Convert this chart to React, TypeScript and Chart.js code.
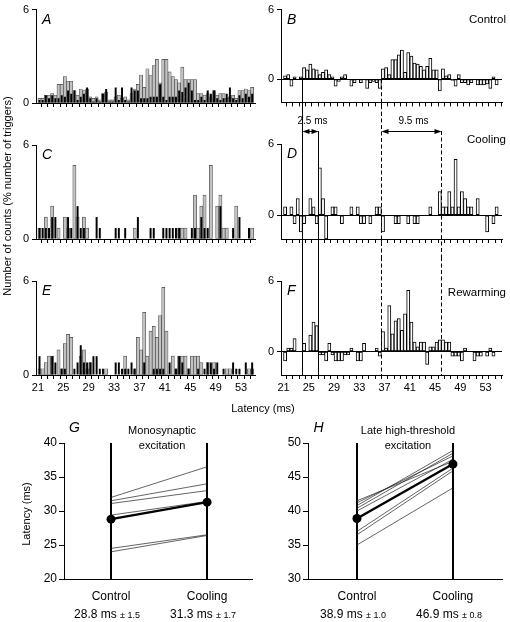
import React, { useEffect, useRef } from 'react';
import { Chart, registerables } from 'chart.js';
Chart.register(...registerables);

const FONT = "'Liberation Sans', Arial, Helvetica, sans-serif";

// ---------------- data ----------------
const BIN_START_MS = 21;
const BIN_WIDTH_MS = 0.5;
const X_TICKS = [21, 22, 23, 24, 25, 26, 27, 28, 29, 30, 31, 32, 33, 34, 35, 36, 37, 38, 39, 40, 41, 42, 43, 44, 45, 46, 47, 48, 49, 50, 51, 52, 53, 54, 55];
const X_LABELS = [21, 25, 29, 33, 37, 41, 45, 49, 53];
const Y_TICKS_HIST = [0, 6];

// Left column: grey and black histograms (% of triggers)
const A_GREY = [0.3, 0.3, 0.5, 0.5, 0.6, 0.5, 1.2, 1.2, 1.7, 1.4, 1.4, 0.8, 0.5, 0.9, 0.8, 0.9, 0.4, 0.3, 0.4, 0.2, 0.6, 0.7, 0.2, 0.2, 0.4, 0.5, 0.3, 0.4, 0.2, 0.6, 0.9, 1.2, 1.8, 1.0, 2.2, 1.8, 2.4, 2.8, 1.3, 2.8, 2.8, 2.0, 1.7, 1.5, 1.3, 2.3, 1.5, 1.5, 1.5, 1.5, 0.6, 0.6, 0.5, 0.6, 0.4, 0.8, 0.5, 0.6, 0.6, 0.3, 0.4, 0.5, 0.3, 0.8, 0.8, 0.9, 0.8, 1.0];
const A_BLACK = [0.2, 0.2, 0.5, 0.3, 0.5, 0.3, 0.3, 0.5, 0.4, 0.8, 0.6, 0.8, 0.2, 0.4, 0.6, 1.0, 0.3, 0.1, 0.3, 0.1, 0.6, 0.9, 0.1, 0.1, 1.0, 0.2, 1.0, 0.2, 0.1, 1.0, 0.8, 0.8, 0.3, 0.3, 0.3, 0.4, 0.4, 0.4, 1.2, 0.4, 0.2, 0.4, 0.4, 0.4, 0.8, 0.7, 1.0, 1.3, 0.8, 0.2, 0.2, 0.4, 0.2, 0.8, 0.6, 0.8, 0.3, 0.2, 0.3, 0.6, 1.0, 0.3, 0.2, 0.5, 0.3, 0.6, 0.4, 0.6];
const C_GREY = [0.7, 0, 1.4, 0, 2.1, 0, 0.7, 0, 1.4, 0.7, 0, 4.7, 1.4, 0, 1.4, 0.7, 0, 0, 0, 0, 0, 0, 0, 0, 0, 0, 0, 0, 0, 0, 0.7, 0, 0, 0, 0, 0, 0, 0, 0, 0, 0, 0, 0, 0, 0.7, 0.7, 0.7, 0, 0, 2.8, 0.7, 2.1, 2.8, 0, 4.7, 0, 2.1, 2.8, 0.7, 0.7, 0, 0, 2.1, 0, 0, 0, 0, 0.7];
const C_BLACK = [0.7, 0.7, 0.7, 0.7, 1.4, 1.4, 0, 0, 0, 1.4, 0.7, 0, 2.1, 0.7, 0.7, 0, 0, 0, 1.4, 0.7, 0, 0, 0, 0, 0.7, 0.7, 0, 0.7, 0, 0, 0, 1.4, 0, 0, 0, 0.7, 0.7, 0, 0, 0.7, 0.7, 0.7, 0.7, 0.7, 0.7, 0, 0, 0, 0.7, 0.7, 0, 1.4, 0.7, 0.7, 0, 0, 0, 2.1, 0, 0, 0, 0.7, 0, 1.4, 0, 0, 0.7, 0];
const E_GREY = [0.4, 0.4, 0.8, 1.2, 1.2, 0, 1.6, 0.4, 2.0, 2.6, 2.4, 0, 0, 1.2, 1.6, 0.4, 0.8, 0, 0, 0, 0, 0.4, 0, 0, 0, 0, 0, 1.2, 0, 0, 0.4, 2.4, 1.6, 4.0, 1.2, 2.8, 3.1, 2.4, 3.8, 5.6, 2.8, 0, 1.2, 0.4, 1.2, 1.2, 1.2, 0.4, 1.2, 1.2, 1.2, 0.8, 0, 0.8, 0, 0.8, 0, 0, 0, 0.4, 0.4, 0, 0, 0, 0, 0, 0.4, 0.4];
const E_BLACK = [1.2, 0, 0, 0, 1.2, 0.8, 0, 0.4, 0.4, 0, 0, 0.4, 0.8, 1.9, 0.8, 0.8, 0.8, 1.2, 1.2, 0.4, 0.4, 0, 0, 0, 0.8, 0.8, 0.4, 0.4, 0.4, 0.8, 0.4, 0, 0, 0.8, 0, 0, 0.4, 0.4, 0.4, 0.4, 0, 0.8, 0, 0.4, 1.2, 0.8, 0, 0.4, 0, 0, 0.4, 0, 0.4, 0.8, 0.8, 0.4, 0.8, 0, 0.4, 0, 0, 0.8, 0.4, 0.4, 0, 0.8, 0, 0.8];

// Right column: difference histograms
const B_DIFF = [0.3, 0.4, -0.6, 0.2, 0, 0.2, 1.0, 0.8, 1.3, 0.9, 0.8, 0.4, 0.6, 0.8, 0.4, 0.2, -0.6, -0.2, 0.2, 0.4, 0, -0.6, -0.3, 0, -0.3, 0, -0.8, -0.3, -0.2, -0.3, -0.8, 0.9, 1.0, 0.4, 1.7, 1.7, 2.1, 2.5, 0.6, 2.3, 2.0, 1.4, 1.3, 1.1, 0.8, 1.1, 1.8, 0.8, 0.8, -1.0, 0.9, 0.3, 0.4, -0.1, -0.6, 0.4, -0.3, -0.3, -0.5, -0.3, 0, -0.5, -0.5, -0.5, -0.4, -0.8, 0.2, -0.5];
const D_DIFF = [0.7, 0, 0.7, -0.7, 1.4, -1.4, -0.7, 0, 1.4, 0.7, -0.7, 4.0, 1.4, -2.0, 0, 0.7, 0.7, 0, -0.7, 0, 0, 0.7, 0, 0.7, -0.7, -0.7, 0, -0.7, 0, 0.7, 0.7, -1.4, 0, 0, 0, -0.7, -0.7, 0, 0, -0.7, 0, -0.7, -0.7, 0, 0, 0, 0.7, 0, 0, 2.0, 0.7, 0.7, 2.0, 0.7, 4.7, 0.7, 2.0, 1.4, 0.7, 0.7, 0, 1.4, 0, 0, -1.4, 0, -0.7, 0.7];
const F_DIFF = [-0.8, 0.3, 0.3, 1.1, 0, 0, 0.7, 0, 1.4, 2.5, 2.2, -0.3, -0.3, -0.8, 0.7, -0.3, -0.8, -0.8, -0.8, -0.3, -0.3, 0.3, 0, -0.8, -0.8, 0.7, 0, 0, 0, 0.3, -0.4, 1.7, 0.3, 3.9, 1.5, 2.6, 2.8, 1.8, 3.2, 5.2, 2.5, 0.8, 0.4, 0.8, 0.8, -1.1, 0.4, 0.4, 0.8, 1.0, 1.0, 0.8, 0.8, -0.4, -0.4, -0.4, -0.8, 0.3, 0, 0, -0.8, -0.4, -0.4, 0, -0.4, 0.3, -0.4, 0];

// Latency markers (ms): control onset, cooling onset
const MONO_MARKS = [24, 26.5];
const LATE_MARKS = [36.5, 46];

// Bottom panels
const CONDITIONS = ['Control', 'Cooling'];
const G_CONTROL = [32.0, 31.5, 31.1, 29.4, 24.5, 24.0];
const G_COOLING = [36.5, 34.0, 33.0, 31.4, 26.5, 26.4];
const G_MEAN = [28.8, 31.3];
const G_SEM = [1.5, 1.7];
const G_TICKS = [20, 25, 30, 35, 40];
const H_CONTROL = [41.5, 41.2, 40.8, 40.4, 40.0, 37.0, 36.5, 35.0];
const H_COOLING = [47.3, 48.1, 48.9, 48.5, 47.6, 46.3, 45.9, 43.4];
const H_MEAN = [38.9, 46.9];
const H_SEM = [1.0, 0.8];
const H_TICKS = [30, 35, 40, 45, 50];

// ---------------- helpers ----------------
type Series = { values: number[]; fill: string; border: string; borderWidth: number; widthRatio: number };

function histConfig(o: {
  series: Series[]; yMin: number; yMax: number; xMin: number; xMax: number;
  padTop: number; padRight: number; yAxisW: number; xAxisH: number;
  xLabels: boolean; zeroLine: boolean; plugin: any;
}): any {
  const centers = o.series[0].values.map((_, i) => BIN_START_MS + BIN_WIDTH_MS * (i + 0.5));
  return {
    type: 'bar',
    data: {
      datasets: o.series.map((s, k) => ({
        data: s.values.map((v, i) => ({ x: centers[i], y: v === 0 ? null : v })),
        backgroundColor: s.fill,
        borderColor: s.border,
        borderWidth: s.borderWidth,
        borderSkipped: false,
        grouped: false,
        barPercentage: s.widthRatio,
        categoryPercentage: 1,
        order: k,
      })),
    },
    options: {
      animation: false,
      responsive: false,
      devicePixelRatio: 1,
      events: [],
      layout: { padding: { top: o.padTop, right: o.padRight, left: 0, bottom: 0 }, autoPadding: false },
      plugins: { legend: { display: false }, tooltip: { enabled: false } },
      scales: {
        x: {
          type: 'linear', min: o.xMin, max: o.xMax, offset: false,
          afterBuildTicks: (s: any) => { s.ticks = X_TICKS.map((v) => ({ value: v })); },
          ticks: {
            autoSkip: false, maxRotation: 0, minRotation: 0, padding: 2, color: '#000',
            font: { family: FONT, size: 11 },
            callback: (v: any) => (o.xLabels && X_LABELS.includes(Number(v)) ? String(v) : ''),
          },
          grid: { display: true, drawOnChartArea: false, drawTicks: true, tickLength: 4, tickColor: '#000', color: '#000', lineWidth: 1 },
          border: { display: true, color: '#000', width: 1 },
          afterFit: (s: any) => { s.height = o.xAxisH; },
        },
        y: {
          type: 'linear', min: o.yMin, max: o.yMax,
          afterBuildTicks: (s: any) => { s.ticks = Y_TICKS_HIST.map((v) => ({ value: v })); },
          ticks: { padding: 3, color: '#000', font: { family: FONT, size: 11 } },
          grid: {
            drawOnChartArea: o.zeroLine, drawTicks: true, tickLength: 4, tickColor: '#000', lineWidth: 1,
            color: (c: any) => (c.tick && c.tick.value === 0 ? '#000' : 'rgba(0,0,0,0)'),
          },
          border: { display: true, color: '#000', width: 1 },
          afterFit: (s: any) => { s.width = o.yAxisW; },
        },
      },
    },
    plugins: [o.plugin],
  };
}

function drawArrowHead(ctx: CanvasRenderingContext2D, x: number, y: number, dir: number) {
  ctx.beginPath();
  ctx.moveTo(x, y);
  ctx.lineTo(x - dir * 7, y - 2.5);
  ctx.lineTo(x - dir * 7, y + 2.5);
  ctx.closePath();
  ctx.fill();
}

function panelPlugin(p: { letter: string; cond?: string; condDy?: number; marks?: 'B' | 'D' | 'F' }) {
  return {
    id: 'panel' + p.letter,
    afterDatasetsDraw(chart: any) {
      const { ctx, chartArea, scales } = chart;
      const x = scales.x;
      const y = scales.y;
      ctx.save();
      ctx.fillStyle = '#000';
      ctx.strokeStyle = '#000';
      ctx.lineWidth = 1;
      if (p.marks) {
        const H = chart.height;
        const arrowY = chartArea.top - 13;
        const vline = (t: number, dashed: boolean, y0: number, y1: number) => {
          const px = Math.round(x.getPixelForValue(t)) + 0.5;
          ctx.setLineDash(dashed ? [4, 2.5] : []);
          ctx.beginPath();
          ctx.moveTo(px, y0);
          ctx.lineTo(px, y1);
          ctx.stroke();
        };
        const groups = [
          { m: MONO_MARKS, dashed: false },
          { m: LATE_MARKS, dashed: true },
        ];
        groups.forEach((g) => {
          if (p.marks === 'B') {
            vline(g.m[0], g.dashed, y.getPixelForValue(0), H);
          } else if (p.marks === 'D') {
            vline(g.m[0], g.dashed, 0, H);
            vline(g.m[1], g.dashed, arrowY, H);
          } else {
            vline(g.m[0], g.dashed, 0, chartArea.bottom);
            vline(g.m[1], g.dashed, 0, chartArea.bottom);
          }
        });
        ctx.setLineDash([]);
        if (p.marks === 'D') {
          groups.forEach((g) => {
            const x0 = Math.round(x.getPixelForValue(g.m[0])) + 0.5;
            const x1 = Math.round(x.getPixelForValue(g.m[1])) + 0.5;
            ctx.beginPath();
            ctx.moveTo(x0 + 3, arrowY + 0.5);
            ctx.lineTo(x1 - 3, arrowY + 0.5);
            ctx.stroke();
            drawArrowHead(ctx, x0, arrowY + 0.5, -1);
            drawArrowHead(ctx, x1, arrowY + 0.5, 1);
            ctx.font = `10px ${FONT}`;
            ctx.textAlign = 'center';
            ctx.textBaseline = 'middle';
            ctx.fillText(`${(g.m[1] - g.m[0]).toFixed(1)} ms`, (x0 + x1) / 2 + 2, arrowY - 10);
          });
        }
      }
      // panel letter
      ctx.font = `italic 14px ${FONT}`;
      ctx.textAlign = 'left';
      ctx.textBaseline = 'middle';
      ctx.fillText(p.letter, chartArea.left + 6, chartArea.top + 10.5);
      if (p.cond) {
        ctx.font = `11.5px ${FONT}`;
        ctx.textAlign = 'right';
        ctx.fillText(p.cond, chartArea.right + 4, chartArea.top + (p.condDy || 0));
      }
      ctx.restore();
    },
  };
}

function slopeConfig(o: {
  letter: string; title: string[]; control: number[]; cooling: number[]; mean: number[]; sem: number[];
  yMin: number; yMax: number; yTicks: number[]; xMin: number; xMax: number; yAxisW: number; padRight: number;
  yTitle: boolean;
}): any {
  const datasets: any[] = [
    {
      data: [{ x: 0, y: o.mean[0] }, { x: 1, y: o.mean[1] }],
      borderColor: '#000', borderWidth: 2.4, pointRadius: 4.5, pointBackgroundColor: '#000', pointBorderWidth: 0,
    },
    ...o.control.map((c, i) => ({
      data: [{ x: 0, y: c }, { x: 1, y: o.cooling[i] }],
      borderColor: '#222', borderWidth: 0.7, pointRadius: 0,
    })),
  ];
  const plugin = {
    id: 'slope' + o.letter,
    afterDraw(chart: any) {
      const { ctx, chartArea, scales } = chart;
      const x = scales.x;
      ctx.save();
      ctx.fillStyle = '#000';
      ctx.textBaseline = 'middle';
      ctx.textAlign = 'center';
      ctx.font = `italic 14px ${FONT}`;
      ctx.fillText(o.letter, chartArea.left + 10.5, chartArea.top - 15);
      const mid = (x.getPixelForValue(0) + x.getPixelForValue(1)) / 2 + 3;
      ctx.font = `11px ${FONT}`;
      ctx.fillText(o.title[0], mid, chartArea.top - 12);
      ctx.fillText(o.title[1], mid, chartArea.top + 3);
      CONDITIONS.forEach((c, i) => {
        const px = x.getPixelForValue(i);
        ctx.font = `12px ${FONT}`;
        ctx.textAlign = 'center';
        ctx.fillText(c, px, chartArea.bottom + 18);
        const main = `${o.mean[i].toFixed(1)} ms `;
        const small = `± ${o.sem[i].toFixed(1)}`;
        ctx.font = `12px ${FONT}`;
        const w1 = ctx.measureText(main).width;
        ctx.font = `9px ${FONT}`;
        const w2 = ctx.measureText(small).width;
        const start = px - 4 - (w1 + w2) / 2;
        ctx.textAlign = 'left';
        ctx.font = `12px ${FONT}`;
        ctx.fillText(main, start, chartArea.bottom + 36);
        ctx.font = `9px ${FONT}`;
        ctx.fillText(small, start + w1, chartArea.bottom + 37);
      });
      if (o.yTitle) {
        ctx.translate(27, (chartArea.top + chartArea.bottom) / 2 + 3);
        ctx.rotate(-Math.PI / 2);
        ctx.textAlign = 'center';
        ctx.font = `11px ${FONT}`;
        ctx.fillText('Latency (ms)', 0, 0);
      }
      ctx.restore();
    },
  };
  return {
    type: 'line',
    data: { datasets },
    options: {
      animation: false,
      responsive: false,
      devicePixelRatio: 1,
      events: [],
      layout: { padding: { top: 43, right: o.padRight, left: 0, bottom: 0 }, autoPadding: false },
      plugins: { legend: { display: false }, tooltip: { enabled: false } },
      scales: {
        x: {
          type: 'linear', min: o.xMin, max: o.xMax, offset: false,
          afterBuildTicks: (s: any) => { s.ticks = [0, 1].map((v) => ({ value: v })); },
          ticks: { display: false },
          grid: { drawOnChartArea: true, drawTicks: false, color: '#000', lineWidth: 2 },
          border: { display: true, color: '#000', width: 1 },
          afterFit: (s: any) => { s.height = 43; },
        },
        y: {
          type: 'linear', min: o.yMin, max: o.yMax,
          afterBuildTicks: (s: any) => { s.ticks = o.yTicks.map((v) => ({ value: v })); },
          ticks: { padding: 2, color: '#000', font: { family: FONT, size: 12 } },
          grid: { drawOnChartArea: false, drawTicks: true, tickLength: 5, tickColor: '#000' },
          border: { display: true, color: '#000', width: 1 },
          afterFit: (s: any) => { s.width = o.yAxisW; },
        },
      },
    },
    plugins: [plugin],
  };
}

function ChartBox(props: { left: number; top: number; width: number; height: number; make: () => any }) {
  const ref = useRef<HTMLCanvasElement>(null);
  useEffect(() => {
    const chart = new Chart(ref.current as HTMLCanvasElement, props.make());
    return () => chart.destroy();
  }, []);
  return (
    <canvas
      ref={ref}
      width={props.width}
      height={props.height}
      style={{ position: 'absolute', left: props.left, top: props.top, width: props.width, height: props.height }}
    />
  );
}

const greyBars = (values: number[]): Series => ({ values, fill: '#c2c2c2', border: '#4a4a4a', borderWidth: 0.7, widthRatio: 1 });
const blackBars = (values: number[]): Series => ({ values, fill: '#000', border: '#000', borderWidth: 0, widthRatio: 0.62 });
const openBars = (values: number[]): Series => ({ values, fill: '#fff', border: '#000', borderWidth: 1, widthRatio: 1 });

const LEFT = { xMin: 20.7, xMax: 55.2, yMin: 0, yMax: 6, padRight: 5, yAxisW: 36, zeroLine: false };
const RIGHT = { xMin: 20.6, xMax: 55.6, yMin: -2, yMax: 6, padRight: 8, yAxisW: 26, zeroLine: true };

export default function App() {
  return (
    <div style={{ position: 'absolute', left: 0, top: 0, width: 510, height: 622, background: '#fff', fontFamily: FONT, overflow: 'hidden' }}>
      <ChartBox left={0} top={0} width={260} height={120}
        make={() => histConfig({ ...LEFT, series: [blackBars(A_BLACK), greyBars(A_GREY)], padTop: 7, xAxisH: 17, xLabels: false, plugin: panelPlugin({ letter: 'A' }) })} />
      <ChartBox left={0} top={120} width={260} height={137}
        make={() => histConfig({ ...LEFT, series: [blackBars(C_BLACK), greyBars(C_GREY)], padTop: 25, xAxisH: 18, xLabels: false, plugin: panelPlugin({ letter: 'C' }) })} />
      <ChartBox left={0} top={257} width={260} height={143}
        make={() => histConfig({ ...LEFT, series: [blackBars(E_BLACK), greyBars(E_GREY)], padTop: 24, xAxisH: 25, xLabels: true, plugin: panelPlugin({ letter: 'E' }) })} />
      <ChartBox left={255} top={0} width={255} height={112}
        make={() => histConfig({ ...RIGHT, series: [openBars(B_DIFF)], padTop: 8, xAxisH: 9, xLabels: false, plugin: panelPlugin({ letter: 'B', cond: 'Control', condDy: 10, marks: 'B' }) })} />
      <ChartBox left={255} top={112} width={255} height={145}
        make={() => histConfig({ ...RIGHT, series: [openBars(D_DIFF)], padTop: 32, xAxisH: 18, xLabels: false, plugin: panelPlugin({ letter: 'D', cond: 'Cooling', condDy: -4, marks: 'D' }) })} />
      <ChartBox left={255} top={257} width={255} height={143}
        make={() => histConfig({ ...RIGHT, series: [openBars(F_DIFF)], padTop: 24, xAxisH: 25, xLabels: true, plugin: panelPlugin({ letter: 'F', cond: 'Rewarming', condDy: 11.5, marks: 'F' }) })} />
      <ChartBox left={0} top={400} width={255} height={222}
        make={() => slopeConfig({ letter: 'G', title: ['Monosynaptic', 'excitation'], control: G_CONTROL, cooling: G_COOLING, mean: G_MEAN, sem: G_SEM, yMin: 20, yMax: 40, yTicks: G_TICKS, xMin: -0.49, xMax: 1.468, yAxisW: 64, padRight: 3, yTitle: true })} />
      <ChartBox left={255} top={400} width={255} height={222}
        make={() => slopeConfig({ letter: 'H', title: ['Late high-threshold', 'excitation'], control: H_CONTROL, cooling: H_COOLING, mean: H_MEAN, sem: H_SEM, yMin: 30, yMax: 50, yTicks: H_TICKS, xMin: -0.51, xMax: 1.511, yAxisW: 53, padRight: 8, yTitle: false })} />
      <div style={{ position: 'absolute', left: -103, top: 189, width: 220, height: 14, transform: 'rotate(-90deg)', transformOrigin: '110px 7px', whiteSpace: 'nowrap', textAlign: 'center', fontSize: 11, color: '#000', lineHeight: '14px', fontWeight: 400 }}>
        Number of counts (% number of triggers)
      </div>
      <div style={{ position: 'absolute', left: 213, top: 401, width: 100, height: 14, whiteSpace: 'nowrap', textAlign: 'center', fontSize: 11, color: '#000', lineHeight: '14px' }}>
        Latency (ms)
      </div>
    </div>
  );
}
